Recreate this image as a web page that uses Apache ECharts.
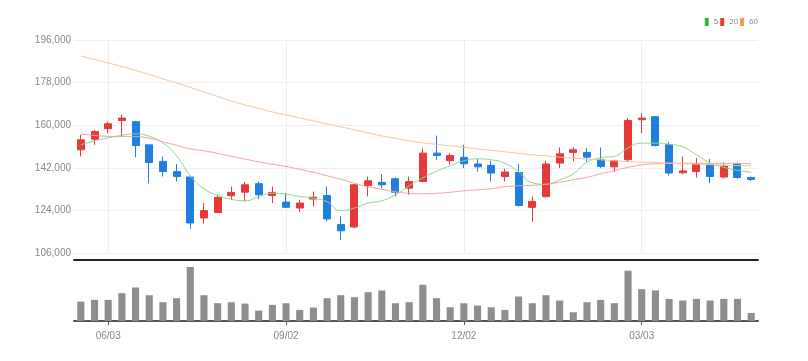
<!DOCTYPE html>
<html>
<head>
<meta charset="utf-8">
<script src="https://cdn.jsdelivr.net/npm/echarts@6/dist/echarts.min.js"></script>
<style>html,body{margin:0;padding:0;background:#fff}#c{width:808px;height:361px}</style>
</head>
<body>
<div id="c"></div>
<script>
const dates = ['05/20','05/27','06/03','06/10','06/17','06/24','07/01','07/08','07/15','07/22','07/29','08/05','08/12','08/19','08/26','09/02','09/09','09/16','09/23','09/30','10/07','10/14','10/21','10/28','11/04','11/11','11/18','11/25','12/02','12/09','12/16','12/23','12/30','01/06','01/13','01/20','01/27','02/03','02/10','02/17','02/24','03/03','03/10','03/17','03/24','03/31','04/07','04/14','04/21','04/28'];
const opens = [149600,154100,158500,162000,161500,151700,144700,140400,138100,120800,123100,130200,131700,135300,130300,127500,125000,128800,130300,118000,117000,134500,135800,137400,133400,136200,148200,145000,146400,143600,143000,138300,140000,125300,129800,144000,148500,148500,145400,142400,145400,162300,163600,151700,139900,140400,143300,138100,143600,137900];
const closes = [153800,157300,160600,163000,151400,144200,140400,138300,118700,123900,129500,131600,134800,130600,131600,125300,127100,129600,120400,115400,134800,136500,134800,131700,136200,148200,147200,147200,143700,142400,139800,140200,126100,127800,143600,147900,149600,146500,142600,145000,162000,163000,151400,139800,140700,143600,138300,142800,137900,137100];
const lows = [146800,151700,156600,155000,146500,135500,138300,136200,116300,118400,123100,128500,127800,128800,127100,125000,123300,125700,119300,111600,116500,129900,133400,129900,130600,136000,145400,143300,141900,140400,136200,136200,125700,119300,129500,141900,144700,144700,141900,140400,144400,156600,151000,138700,139300,137900,135500,137500,137400,136500];
const highs = [155900,158000,161500,164400,161800,151700,146800,143600,138100,127100,130600,134100,136000,136200,134100,131300,128500,132000,134100,121500,135200,138300,139300,137900,138300,150300,155600,148200,151700,145700,145000,141600,143600,129900,145000,150600,150600,150300,150600,145400,163000,165100,163800,152900,146800,146100,145700,144200,144200,138300];
const ma5 = [151700,153390,154650,155710,156340,155290,152540,147060,138620,133140,130390,128710,128070,129760,131240,130900,129890,129130,127650,123860,124990,127100,128070,130610,134400,137780,140520,142840,144950,145790,145370,143900,140310,135670,135040,136930,139470,144320,146220,146850,150440,152420,152420,151990,150860,147480,144110,142210,140940,140100];
const ma20 = [156210,155710,155290,155200,155200,154440,152970,151490,150010,149170,148110,146850,145670,144530,143470,142550,141360,140100,138620,137150,135460,133980,132930,131870,131240,131030,131240,131660,132290,132720,133140,133980,134400,134610,135040,135880,136930,137990,139470,140730,142210,143260,143680,143900,143900,143900,143900,143900,143900,143680];
const ma60 = [189250,187770,186300,184820,183130,181440,179550,177860,175960,174060,172160,170260,168580,167100,165620,164360,163090,161830,160560,159300,158030,156760,155500,154440,153390,152540,151910,151280,150650,150010,149380,148750,148110,147480,147060,146510,146090,145670,145370,144950,144610,144400,144190,143980,143770,143560,143350,143140,142930,142840];
const volumes = [580000,630000,630000,830000,1000000,770000,560000,680000,1610000,770000,530000,560000,520000,310000,480000,530000,330000,400000,680000,770000,710000,860000,910000,530000,560000,1080000,680000,410000,530000,460000,410000,330000,730000,530000,770000,610000,260000,560000,630000,530000,1500000,950000,910000,660000,610000,660000,610000,660000,660000,240000];
const priceTicks = {min: 106000, max: 196000, step: 18000};
const maNames = ['5', '20', '60'];

const labelIdx = (i) => i % 13 === 2;
const FONT = '"Liberation Sans",Arial,sans-serif';
const candleData = dates.map((d, i) => [opens[i], closes[i], lows[i], highs[i]]);

const chart = echarts.init(document.getElementById('c'), null, {renderer: 'canvas'});
chart.setOption({
  animation: false,
  backgroundColor: '#fff',
  legend: {
    data: maNames, right: 50, top: 18, icon: 'rect', itemWidth: 4, itemHeight: 8, itemGap: 2,
    padding: 0, textStyle: {fontSize: 8, color: '#888', fontFamily: FONT}
  },
  grid: [
    {left: 74, right: 50, top: 40, height: 213},
    {left: 74, right: 50, top: 264, height: 57}
  ],
  xAxis: [
    {
      type: 'category', gridIndex: 0, data: dates, boundaryGap: true, offset: 7,
      axisLine: {show: true, lineStyle: {color: '#222', width: 2}},
      axisTick: {show: false}, axisLabel: {show: false},
      splitLine: {show: true, interval: labelIdx, alignWithLabel: true, lineStyle: {color: '#eeeeee', width: 1}}
    },
    {
      type: 'category', gridIndex: 1, data: dates, boundaryGap: true,
      axisLine: {show: true, lineStyle: {color: '#555', width: 2}},
      axisTick: {show: true, interval: labelIdx, alignWithLabel: true, length: 4, lineStyle: {color: '#555'}},
      axisLabel: {show: true, interval: labelIdx, color: '#888', fontSize: 10, fontFamily: FONT, margin: 10},
      splitLine: {show: false}
    }
  ],
  yAxis: [
    {
      type: 'value', gridIndex: 0, min: priceTicks.min, max: priceTicks.max, interval: priceTicks.step,
      axisLine: {show: false}, axisTick: {show: false},
      axisLabel: {color: '#888', fontSize: 10, fontFamily: FONT, margin: 3,
        formatter: (v) => v.toLocaleString('en-US')},
      splitLine: {lineStyle: {color: '#eeeeee'}}
    },
    {
      type: 'value', gridIndex: 1, min: 0, max: 1700000,
      axisLine: {show: false}, axisTick: {show: false}, axisLabel: {show: false}, splitLine: {show: false}
    }
  ],
  series: [
    {
      type: 'candlestick', name: 'price', xAxisIndex: 0, yAxisIndex: 0, data: candleData, barWidth: '55%',
      itemStyle: {color: '#e53a3a', color0: '#1e7fe0', borderColor: '#e53a3a', borderColor0: '#1e7fe0', borderWidth: 1}
    },
    {type: 'line', name: maNames[0], data: ma5, smooth: true, showSymbol: false, symbol: 'none',
      itemStyle: {color: '#2dbb3a'}, lineStyle: {color: '#8cd68c', width: 1}, z: 3},
    {type: 'line', name: maNames[1], data: ma20, smooth: true, showSymbol: false, symbol: 'none',
      itemStyle: {color: '#ee3b3b'}, lineStyle: {color: '#f3a0a0', width: 1}, z: 3},
    {type: 'line', name: maNames[2], data: ma60, smooth: true, showSymbol: false, symbol: 'none',
      itemStyle: {color: '#f0a040'}, lineStyle: {color: '#f7c497', width: 1}, z: 3},
    {
      type: 'bar', name: 'volume', xAxisIndex: 1, yAxisIndex: 1, data: volumes, barWidth: '52%',
      itemStyle: {color: '#8e8e8e'}
    }
  ]
});
</script>
</body>
</html>
